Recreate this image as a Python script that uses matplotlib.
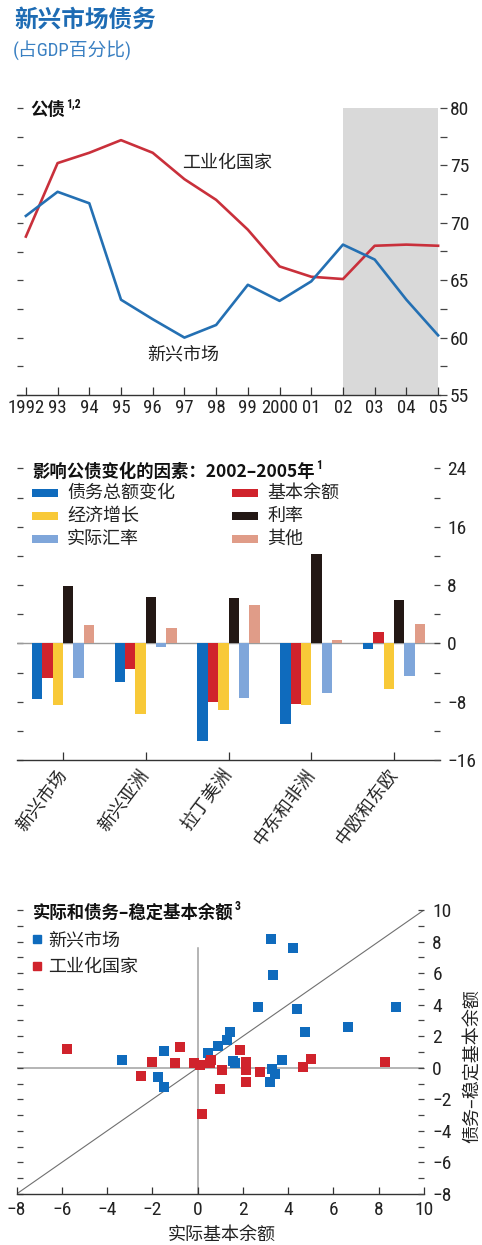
import matplotlib
matplotlib.use('Agg')
import matplotlib.pyplot as plt
from matplotlib import font_manager
from matplotlib.ticker import MultipleLocator, FuncFormatter
from matplotlib.patches import Rectangle
from matplotlib.lines import Line2D
import numpy as np

names = {f.name for f in font_manager.fontManager.ttflist}
NUM = 'Liberation Sans'
for cand in ['Roboto Condensed', 'Archivo Narrow', 'PT Sans Narrow', 'Asap Condensed',
             'Barlow Semi Condensed', 'Liberation Sans Narrow']:
    if cand in names:
        NUM = cand
        break
CJK = 'Noto Sans CJK SC'
plt.rcParams['font.family'] = [CJK, 'DejaVu Sans']

# ---------------- data ----------------
years = list(range(1992, 2006))
year_labels = ['1992', '93', '94', '95', '96', '97', '98', '99', '2000', '01', '02', '03', '04', '05']
industrial = [68.8, 75.2, 76.1, 77.2, 76.1, 73.8, 72.0, 69.4, 66.2, 65.3, 65.1, 68.0, 68.1, 68.0]
emerging = [70.6, 72.7, 71.7, 63.3, 61.6, 60.0, 61.1, 64.6, 63.2, 64.9, 68.1, 66.8, 63.3, 60.2]

regions = ['新兴市场', '新兴亚洲', '拉丁美洲', '中东和非洲', '中欧和东欧']
factor_names = ['债务总额变化', '基本余额', '经济增长', '利率', '实际汇率', '其他']
debt_change = [-7.7, -5.3, -13.4, -11.1, -0.8]
primary_balance = [-4.7, -3.5, -8.0, -8.3, 1.5]
growth = [-8.4, -9.7, -9.1, -8.5, -6.3]
interest = [7.8, 6.4, 6.2, 12.3, 6.0]
real_fx = [-4.8, -0.45, -7.5, -6.8, -4.5]
other = [2.5, 2.1, 5.2, 0.45, 2.7]

em_actual = [3.22, 4.20, 3.33, 2.65, 4.40, 8.78, 6.65, 4.75, 1.42, 1.30, 0.88, 0.44,
             -1.50, -3.35, 1.55, 1.64, 3.73, 3.29, 3.44, 3.19, -1.73, -1.47]
em_stab = [8.14, 7.61, 5.86, 3.83, 3.74, 3.87, 2.56, 2.28, 2.28, 1.75, 1.37, 0.95,
           1.08, 0.49, 0.45, 0.30, 0.49, -0.10, -0.42, -0.88, -0.57, -1.20]
ind_actual = [-5.78, -0.80, -2.02, -1.02, -2.50, -0.18, 0.12, 0.56, 0.60, 1.08, 0.97, 0.18,
              1.86, 2.15, 2.15, 2.15, 2.74, 4.66, 4.99, 8.27]
ind_stab = [1.16, 1.29, 0.38, 0.32, -0.50, 0.32, 0.17, 0.28, 0.50, -0.15, -1.35, -2.90,
            1.10, 0.34, -0.13, -0.88, -0.25, 0.03, 0.53, 0.34]

# ---------------- figure ----------------
W, H = 482, 1245
fig = plt.figure(figsize=(W / 100, H / 100), dpi=100)


def fx(px):
    return px / W


def fy(py):
    return 1 - py / H


BLUE_T = '#1e6cb4'
RED_L = '#c9303b'
BLUE_L = '#2470b3'
C_BLUE = '#0f6bbd'
C_RED = '#d0232c'
C_YEL = '#f8c938'
C_BLK = '#231815'
C_LBL = '#7fa6da'
C_PNK = '#e09c88'
AX_C = '#333333'
TK_C = '#444444'

fig.text(fx(14), fy(20), '新兴市场债务', fontsize=17, weight='bold', color=BLUE_T, va='center', ha='left')
fig.text(fx(13), fy(50), '(占GDP百分比)', fontsize=13.5, color='#3a80c2', va='center', ha='left',
         family=[NUM, CJK])


def sup(artist, s, size=8.5):
    return plt.annotate(s, xy=(1.0, 1.0), xycoords=artist, xytext=(1, 3), textcoords='offset points',
                        fontsize=size, ha='left', va='top', weight='bold', family=[NUM, CJK],
                        annotation_clip=False, color='#111')


def minus_fmt(v, p):
    return ('%d' % round(v)).replace('-', '\u2212')


# ---------------- panel 1 ----------------
ax1 = fig.add_axes([fx(17), fy(395), (440 - 17) / W, (395 - 108) / H])
ax1.set_xlim(1991.72, 2005.06)
ax1.set_ylim(55, 80)
ax1.axvspan(2002, 2005, ymin=0, ymax=1, color='#d9d9d9', lw=0, zorder=0)
ax1.plot(years, industrial, color=RED_L, lw=1.9, zorder=3)
ax1.plot(years, emerging, color=BLUE_L, lw=1.9, zorder=3)
for s in ['top', 'left', 'right']:
    ax1.spines[s].set_visible(False)
ax1.spines['bottom'].set_color(AX_C)
ax1.spines['bottom'].set_linewidth(1.0)
ax1.set_xticks(years)
ax1.set_xticklabels(year_labels, fontfamily=NUM, fontsize=13.5)
ax1.tick_params(axis='x', direction='in', length=6, width=0.9, color=AX_C, pad=3, labelcolor='#222')
ax1.yaxis.set_major_locator(MultipleLocator(2.5))
ax1.tick_params(axis='y', direction='in', length=4, width=0.9, color=TK_C, labelleft=False)
ax1r = ax1.twinx()
ax1r.set_ylim(55, 80)
for s in ax1r.spines.values():
    s.set_visible(False)
ax1r.yaxis.set_major_locator(MultipleLocator(5))
ax1r.yaxis.set_minor_locator(MultipleLocator(2.5))
ax1r.tick_params(axis='y', which='both', direction='out', length=5, width=0.9, color=TK_C, pad=2,
                 labelsize=14, labelcolor='#222')
for lab in ax1r.get_yticklabels():
    lab.set_fontfamily(NUM)
ax1.text(1998.34, 75.2, '工业化国家', fontsize=13, ha='center', va='center', color='#222')
ax1.text(1996.95, 58.5, '新兴市场', fontsize=13, ha='center', va='center', color='#222')
t1 = fig.text(fx(30), fy(110), '公债', fontsize=12.5, weight='bold', va='center', ha='left', color='#111')
sup(t1, '1,2')

# ---------------- panel 2 ----------------
ax2 = fig.add_axes([fx(17), fy(760), (440 - 17) / W, (760 - 468.4) / H])
ax2.set_xlim(-0.556, 4.556)
ax2.set_ylim(-16, 24)
xpos = np.arange(len(regions))
series = [debt_change, primary_balance, growth, interest, real_fx, other]
colors = [C_BLUE, C_RED, C_YEL, C_BLK, C_LBL, C_PNK]
bw = 0.125
for i, (vals, c) in enumerate(zip(series, colors)):
    ax2.bar(xpos + (i - 2.5) * bw, vals, width=bw, color=c, lw=0, zorder=3)
ax2.axhline(0, color='#9a9a9a', lw=1.0, zorder=2)
for s in ['top', 'left', 'right']:
    ax2.spines[s].set_visible(False)
ax2.spines['bottom'].set_color(AX_C)
ax2.spines['bottom'].set_linewidth(1.0)
ax2.set_xticks(xpos)
ax2.set_xticklabels(regions, rotation=53, ha='right', va='center', rotation_mode='anchor', fontsize=13)
ax2.tick_params(axis='x', direction='in', length=6, width=0.9, color=AX_C, pad=8, labelcolor='#222')
ax2.yaxis.set_major_locator(MultipleLocator(4))
ax2.tick_params(axis='y', direction='in', length=4, width=0.9, color=TK_C, labelleft=False)
ax2r = ax2.twinx()
ax2r.set_ylim(-16, 24)
for s in ax2r.spines.values():
    s.set_visible(False)
ax2r.yaxis.set_major_locator(MultipleLocator(8))
ax2r.yaxis.set_minor_locator(MultipleLocator(4))
ax2r.yaxis.set_major_formatter(FuncFormatter(minus_fmt))
ax2r.tick_params(axis='y', which='both', direction='in', length=4, width=0.9, color=TK_C, pad=5,
                 labelsize=14, labelcolor='#222')
for lab in ax2r.get_yticklabels():
    lab.set_fontfamily([NUM, 'DejaVu Sans'])

t2 = fig.text(fx(32), fy(472), '影响公债变化的因素：2002–2005年', fontsize=12.5, weight='bold',
              va='center', ha='left', color='#111')
sup(t2, '1')
leg_rows = [493, 516, 539]
leg_cols = [(32, 67), (232, 267)]
order = [(0, 0), (1, 0), (0, 1), (1, 1), (0, 2), (1, 2)]
for i, name in enumerate(factor_names):
    col, row = order[i]
    px0, tx0 = leg_cols[col]
    yy = leg_rows[row]
    fig.add_artist(Rectangle((fx(px0), fy(yy + 4)), 26 / W, 8.5 / H, transform=fig.transFigure,
                             color=colors[i], lw=0))
    fig.text(fx(tx0), fy(yy), name, fontsize=13, va='center', ha='left', color='#222')

# ---------------- panel 3 ----------------
ax3 = fig.add_axes([fx(16.5), fy(1194), (424 - 16.5) / W, (1194 - 910) / H])
ax3.set_xlim(-8, 10)
ax3.set_ylim(-8, 10)
ax3.plot([-8, 10], [-8, 10], color='#707070', lw=0.8, zorder=1)
ax3.axhline(0, color='#a0a0a0', lw=1.1, zorder=1)
ax3.plot([0, 0], [-8, 7.6], color='#a0a0a0', lw=1.1, zorder=1)
ax3.scatter(em_actual, em_stab, marker='s', s=50, color=C_BLUE, lw=0, zorder=3)
ax3.scatter(ind_actual, ind_stab, marker='s', s=50, color=C_RED, lw=0, zorder=4)
for s in ['top', 'left', 'right']:
    ax3.spines[s].set_visible(False)
ax3.spines['bottom'].set_color(AX_C)
ax3.spines['bottom'].set_linewidth(1.0)
ax3.xaxis.set_major_locator(MultipleLocator(2))
ax3.xaxis.set_major_formatter(FuncFormatter(minus_fmt))
ax3.tick_params(axis='x', direction='in', length=5, width=0.9, color=AX_C, pad=5, labelsize=14,
                labelcolor='#222')
for lab in ax3.get_xticklabels():
    lab.set_fontfamily([NUM, 'DejaVu Sans'])
ax3.yaxis.set_major_locator(MultipleLocator(1))
ax3.tick_params(axis='y', direction='in', length=4, width=0.9, color=TK_C, labelleft=False)
ax3r = ax3.twinx()
ax3r.set_ylim(-8, 10)
for s in ax3r.spines.values():
    s.set_visible(False)
ax3r.yaxis.set_major_locator(MultipleLocator(2))
ax3r.yaxis.set_minor_locator(MultipleLocator(1))
ax3r.yaxis.set_major_formatter(FuncFormatter(minus_fmt))
ax3r.tick_params(axis='y', which='both', direction='in', length=4, width=0.9, color=TK_C, pad=6,
                 labelsize=14, labelcolor='#222')
for lab in ax3r.get_yticklabels():
    lab.set_fontfamily([NUM, 'DejaVu Sans'])

t3 = fig.text(fx(33), fy(913), '实际和债务–稳定基本余额', fontsize=12.5, weight='bold',
              va='center', ha='left', color='#111')
sup(t3, '3')
fig.add_artist(Line2D([fx(37)], [fy(939)], marker='s', ms=5.2, color=C_BLUE, lw=0,
                      transform=fig.transFigure))
fig.text(fx(48), fy(940), '新兴市场', fontsize=13, va='center', ha='left', color='#222')
fig.add_artist(Line2D([fx(37)], [fy(966)], marker='s', ms=5.2, color=C_RED, lw=0,
                      transform=fig.transFigure))
fig.text(fx(48), fy(967), '工业化国家', fontsize=13, va='center', ha='left', color='#222')
fig.text(fx(222), fy(1235), '实际基本余额', fontsize=13, va='center', ha='center', color='#222')
fig.text(fx(473), fy(1066), '债务–稳定基本余额', fontsize=13, va='center', ha='center',
         rotation=90, color='#222')

fig.savefig('out.png', dpi=100)
